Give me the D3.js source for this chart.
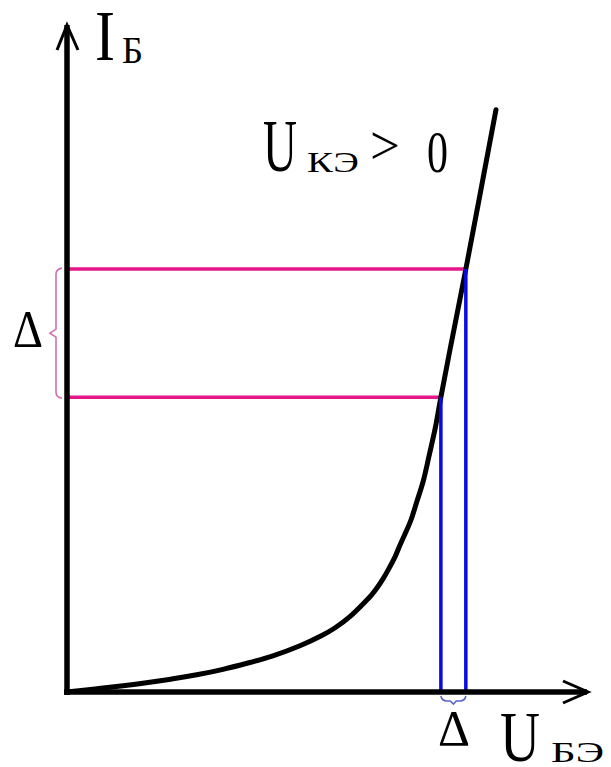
<!DOCTYPE html>
<html>
<head>
<meta charset="utf-8">
<script src="https://cdn.jsdelivr.net/npm/d3@7/dist/d3.min.js"></script>
<style>
  html, body { margin: 0; padding: 0; background: #fff; }
  svg { display: block; }
</style>
</head>
<body>
<svg id="chart" width="611" height="767"></svg>
<script>
// Input-characteristic data (U_BE along x, I_B along y), arbitrary units 0..100
const uValues = [0, 5.4, 10.8, 15.6, 20.4, 25.2, 30.0, 34.8, 39.6, 44.8, 49.0, 51.5, 54.4, 57.3, 58.5, 59.6, 60.8, 61.9, 63.1, 63.8, 65.0, 66.2, 67.3, 68.5, 69.6, 70.8, 71.9, 74.2, 76.7, 79.6, 82.5];
const iValues = [0, 0.45, 0.93, 1.42, 1.98, 2.62, 3.40, 4.35, 5.43, 6.93, 8.47, 9.60, 11.3, 13.5, 14.5, 15.6, 17.0, 18.5, 20.3, 21.6, 23.7, 25.9, 28.6, 31.6, 35.3, 39.5, 44.2, 53.5, 63.4, 75.3, 87.3];
// The two current levels (Δ I_B) and matching voltages (Δ U_BE)
const deltaI = [44.2, 63.4];
const deltaU = [71.9, 76.7];
// Labels
const yLabelMain = "I", yLabelSub = "Б";
const xLabelMain = "U", xLabelSub = "БЭ";
const curveLabelMain = "U", curveLabelSub = "КЭ", curveLabelRel = ">", curveLabelVal = "0";
const deltaSymbol = "Δ";

const FONT = "'Liberation Serif', 'Times New Roman', Tinos, serif";

const svg = d3.select("#chart");
const x = d3.scaleLinear().domain([0, 100]).range([67, 587]);
const y = d3.scaleLinear().domain([0, 100]).range([692, 25]);

const magenta = "#e4168a";
const braceMag = "#d070b4";
const blue = "#0a0ae0";
const braceBlue = "#5a64c8";

// Magenta horizontal level lines
svg.selectAll("line.lvl").data(deltaI).join("line")
  .attr("class", "lvl")
  .attr("x1", x(0)).attr("x2", (d, k) => x(deltaU[k]))
  .attr("y1", d => y(d)).attr("y2", d => y(d))
  .attr("stroke", magenta).attr("stroke-width", 3.5);

// Curve
const pts = uValues.map((u, k) => [u, iValues[k]]);
svg.append("path")
  .datum(pts)
  .attr("d", d3.line().x(d => x(d[0])).y(d => y(d[1])).curve(d3.curveNatural))
  .attr("fill", "none").attr("stroke", "#000").attr("stroke-width", 5)
  .attr("stroke-linecap", "round").attr("stroke-linejoin", "round");

// Blue vertical lines
svg.selectAll("line.vl").data(deltaU).join("line")
  .attr("class", "vl")
  .attr("x1", d => x(d)).attr("x2", d => x(d))
  .attr("y1", (d, k) => y(deltaI[k])).attr("y2", y(0))
  .attr("stroke", blue).attr("stroke-width", 3.5);

// Axes
const axisG = svg.append("g").attr("stroke", "#000").attr("fill", "none");
axisG.append("line").attr("x1", x(0)).attr("x2", x(0)).attr("y1", y(0) + 3).attr("y2", y(100))
  .attr("stroke-width", 5.5);
axisG.append("line").attr("x1", x(0) - 3).attr("x2", x(100)).attr("y1", y(0)).attr("y2", y(0))
  .attr("stroke-width", 5.5);
axisG.append("path")
  .attr("d", `M${x(0) - 10},${y(100) + 25} L${x(0)},${y(100)} L${x(0) + 11},${y(100) + 25}`)
  .attr("stroke-width", 3);
axisG.append("path")
  .attr("d", `M${x(100) - 24},${y(0) - 11} L${x(100) + 1},${y(0)} L${x(100) - 24},${y(0) + 11}`)
  .attr("stroke-width", 3);

// Left brace (magenta) spanning ΔI
const yTop = y(deltaI[1]), yBot = y(deltaI[0]), yMid = (yTop + yBot) / 2;
const bx = x(0) - 11;
svg.append("path")
  .attr("d", `M${bx + 6},${yTop - 1} Q${bx},${yTop} ${bx},${yTop + 5} L${bx},${yMid - 4} L${bx - 6},${yMid} L${bx},${yMid + 4} L${bx},${yBot - 5} Q${bx},${yBot} ${bx + 6},${yBot + 1}`)
  .attr("fill", "none").attr("stroke", braceMag).attr("stroke-width", 1.6);

// Bottom brace (blue) spanning ΔU
const xL = x(deltaU[0]), xR = x(deltaU[1]), xM = (xL + xR) / 2;
const by = y(0) + 9;
svg.append("path")
  .attr("d", `M${xL},${y(0) + 4} Q${xL + 1},${by} ${xL + 6},${by} L${xM - 3},${by} L${xM},${by + 3} L${xM + 3},${by} L${xR - 6},${by} Q${xR - 1},${by} ${xR},${y(0) + 4}`)
  .attr("fill", "none").attr("stroke", braceBlue).attr("stroke-width", 1.6);

// Compound label: one <text>, several <tspan>s, each [string, x, baseline, size, length]
function label(parts) {
  const t = svg.append("text").attr("font-family", FONT).attr("fill", "#000");
  parts.forEach(([s, px, py, size, len]) => {
    const ts = t.append("tspan").attr("x", px).attr("y", py).attr("font-size", size).text(s);
    if (len) ts.attr("textLength", len).attr("lengthAdjust", "spacingAndGlyphs");
  });
  return t;
}

// Axis labels
label([[yLabelMain, 95, 60, 72, 20], [yLabelSub, 122, 63, 38, 21]]);
label([[xLabelMain, 500, 761, 72, 40], [xLabelSub, 551, 762, 29, 53]]);

// Curve label
label([[curveLabelMain, 263, 171, 74, 34], [curveLabelSub, 307, 172, 30, 52],
       [curveLabelRel, 370, 164, 54, 30], [curveLabelVal, 427, 172, 59, 21]]);

// Delta labels
label([[deltaSymbol, 13, 347, 52, 30]]);
label([[deltaSymbol, 438, 745, 50, 32]]);
</script>
</body>
</html>
